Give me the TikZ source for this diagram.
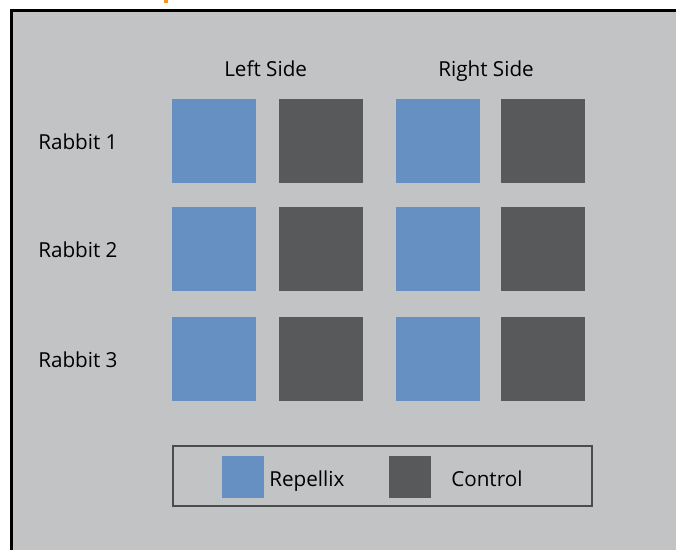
\documentclass[tikz,border=0pt]{standalone}
\usepackage{fontspec}
\setmainfont{Open Sans}
\definecolor{bgray}{HTML}{C2C3C5}
\definecolor{repblue}{HTML}{6690C2}
\definecolor{ctrl}{HTML}{58595B}
\definecolor{orng}{HTML}{F7941D}
\begin{document}
\begin{tikzpicture}[x=0.75pt,y=-0.75pt,
  sq/.style={minimum size=63pt,inner sep=0pt,outer sep=0pt,draw=none},
  rep/.style={sq,fill=repblue},
  con/.style={sq,fill=ctrl},
  lsq/.style={minimum size=31.5pt,inner sep=0pt,draw=none},
  lbl/.style={font=\fontsize{15.5pt}{18pt}\selectfont,inner sep=0pt,anchor=base west}]
\useasboundingbox (0,0) rectangle (676,550);
\begin{scope}
\clip (0,0) rectangle (676,550);
\fill[bgray] (11,10) rectangle (690,560);
\draw[line width=2.25pt,black] (11,570) -- (11,10) -- (690,10);
\fill[orng] (164,0) rectangle (168,3);
\end{scope}
\node[lbl] (ls) at (224,76) {Left Side};
\node[lbl] (rs) at (438,76) {Right Side};
\foreach \r/\y/\b in {1/141/149,2/249/257,3/359/367}{
  \node[lbl] (rab\r) at (38,\b) {Rabbit \r};
  \node[rep] (a\r) at (214,\y) {};
  \node[con] (b\r) at (321,\y) {};
  \node[rep] (c\r) at (438,\y) {};
  \node[con] (d\r) at (543,\y) {};
}
\node[draw=ctrl!85!black,line width=1.5pt,minimum width=314pt,minimum height=45pt,inner sep=0pt] (leg) at (382.5,476) {};
\node[lsq,fill=repblue] (lrep) at (243,476.5) {};
\node[lsq,fill=ctrl] (lcon) at (410,476.5) {};
\node[lbl] (trep) at (269,486) {Repellix};
\node[lbl] (tcon) at (451,486) {Control};
\end{tikzpicture}
\end{document}
